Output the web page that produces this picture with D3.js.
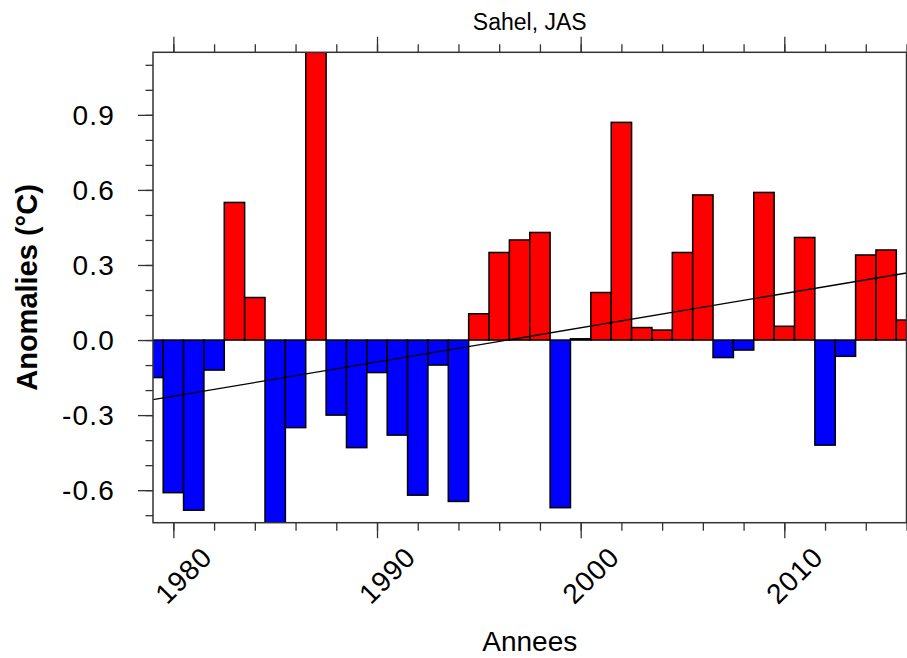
<!DOCTYPE html>
<html>
<head>
<meta charset="utf-8">
<script src="https://cdn.jsdelivr.net/npm/d3@7"></script>
<style>
  html, body { margin: 0; padding: 0; background: #fff; }
  svg { display: block; }
  text { font-family: "Liberation Sans", Arial, Helvetica, sans-serif; fill: #000; }
</style>
</head>
<body>
<svg id="chart" width="907" height="658"></svg>
<script>
// Sahel JAS temperature anomalies (°C), one value per year
const years = d3.range(1979, 2017);
const anomalies = [
  -0.15, -0.61, -0.68, -0.12, 0.55, 0.17, -0.73, -0.35, 1.15, -0.30,
  -0.43, -0.13, -0.38, -0.62, -0.10, -0.645, 0.105, 0.35, 0.40, 0.43,
  -0.67, 0.005, 0.19, 0.87, 0.05, 0.04, 0.35, 0.58, -0.07, -0.04,
  0.59, 0.055, 0.41, -0.42, -0.065, 0.34, 0.36, 0.08
];
const xMajorTicks = [1980, 1990, 2000, 2010];
const xMinorTicks = d3.range(1980, 2017, 2);
const yMajorTicks = [-0.6, -0.3, 0.0, 0.3, 0.6, 0.9];
const yMinorTicks = d3.range(-7, 12).map(d => d / 10);

const titleText = "Sahel, JAS";
const xTitle = "Annees";
const yTitle = "Anomalies (°C)";

const data = years.map((y, i) => ({ year: y, value: anomalies[i] }));

const plot = { left: 153, top: 52.3, right: 906.5, bottom: 522.7 };

const x = d3.scaleLinear().domain([years[0], years[years.length - 1]]).range([plot.left, plot.right]);
const y = d3.scaleLinear().domain(d3.extent(anomalies)).range([plot.bottom, plot.top]);

const svg = d3.select("#chart");

svg.append("defs").append("clipPath").attr("id", "plot-clip")
  .append("rect")
  .attr("x", plot.left).attr("y", plot.top)
  .attr("width", plot.right - plot.left).attr("height", plot.bottom - plot.top);

const inner = svg.append("g").attr("clip-path", "url(#plot-clip)");

// bars centred on each year, one year wide
inner.selectAll("rect.bar").data(data).join("rect")
  .attr("class", "bar")
  .attr("x", d => x(d.year - 0.5))
  .attr("width", d => x(d.year + 0.5) - x(d.year - 0.5))
  .attr("y", d => y(Math.max(0, d.value)))
  .attr("height", d => Math.abs(y(d.value) - y(0)))
  .attr("fill", d => d.value >= 0 ? "#ff0000" : "#0000ff")
  .attr("stroke", "#000")
  .attr("stroke-width", 1.5);

// least-squares linear trend
const n = years.length;
const mx = d3.mean(years), my = d3.mean(anomalies);
const sxy = d3.sum(years, (t, i) => (t - mx) * (anomalies[i] - my));
const sxx = d3.sum(years, t => (t - mx) * (t - mx));
const slope = sxy / sxx;
const intercept = my - slope * mx;
const trend = [years[0], years[n - 1]].map(t => ({ year: t, value: intercept + slope * t }));

inner.append("path")
  .datum(trend)
  .attr("d", d3.line().x(d => x(d.year)).y(d => y(d.value)))
  .attr("fill", "none")
  .attr("stroke", "#000")
  .attr("stroke-width", 1.3);

// axes: ticks point outward on all four sides
const tickColor = "#333";
const axisBottom = svg.append("g").attr("transform", `translate(0,${plot.bottom})`)
  .call(d3.axisBottom(x).tickValues(xMinorTicks).tickSize(8).tickFormat(""));
const axisBottomMajor = svg.append("g").attr("transform", `translate(0,${plot.bottom})`)
  .call(d3.axisBottom(x).tickValues(xMajorTicks).tickSize(15.5).tickFormat(""));
const axisTop = svg.append("g").attr("transform", `translate(0,${plot.top})`)
  .call(d3.axisTop(x).tickValues(xMinorTicks).tickSize(8).tickFormat(""));
const axisTopMajor = svg.append("g").attr("transform", `translate(0,${plot.top})`)
  .call(d3.axisTop(x).tickValues(xMajorTicks).tickSize(15.5).tickFormat(""));
const axisLeft = svg.append("g").attr("transform", `translate(${plot.left},0)`)
  .call(d3.axisLeft(y).tickValues(yMinorTicks).tickSize(7.5).tickFormat(""));
const axisLeftMajor = svg.append("g").attr("transform", `translate(${plot.left},0)`)
  .call(d3.axisLeft(y).tickValues(yMajorTicks).tickSize(15).tickFormat(""));
const axisRight = svg.append("g").attr("transform", `translate(${plot.right},0)`)
  .call(d3.axisRight(y).tickValues(yMinorTicks).tickSize(7.5).tickFormat(""));
const axisRightMajor = svg.append("g").attr("transform", `translate(${plot.right},0)`)
  .call(d3.axisRight(y).tickValues(yMajorTicks).tickSize(15).tickFormat(""));

[axisBottom, axisBottomMajor, axisTop, axisTopMajor, axisLeft, axisLeftMajor, axisRight, axisRightMajor]
  .forEach(g => {
    g.select(".domain").remove();
    g.selectAll(".tick line").attr("stroke", tickColor).attr("stroke-width", 1.3);
  });

// plot frame
svg.append("rect")
  .attr("x", plot.left).attr("y", plot.top)
  .attr("width", plot.right - plot.left).attr("height", plot.bottom - plot.top)
  .attr("fill", "none").attr("stroke", "#333").attr("stroke-width", 1.5);

// y tick labels (plain hyphen for negatives)
const fmtY = v => d3.format(".1f")(v).replace("\u2212", "-");
svg.append("g").selectAll("text").data(yMajorTicks).join("text")
  .attr("x", 115)
  .attr("y", d => y(d))
  .attr("dy", "0.36em")
  .attr("text-anchor", "end")
  .style("font-size", "28px")
  .style("letter-spacing", "1.2px")
  .text(fmtY);

// x tick labels, rotated 45°
svg.append("g").selectAll("text").data(xMajorTicks).join("text")
  .attr("transform", d => `translate(${x(d) + 10},575) rotate(-45)`)
  .attr("text-anchor", "middle")
  .attr("dy", "0.36em")
  .style("font-size", "28px")
  .style("letter-spacing", "1px")
  .text(d => d);

// titles
svg.append("text")
  .attr("x", (plot.left + plot.right) / 2).attr("y", 30)
  .attr("text-anchor", "middle")
  .style("font-size", "23px")
  .text(titleText);

svg.append("text")
  .attr("x", (plot.left + plot.right) / 2).attr("y", 651)
  .attr("text-anchor", "middle")
  .style("font-size", "28px")
  .text(xTitle);

svg.append("text")
  .attr("transform", `translate(36.5,${(plot.top + plot.bottom) / 2}) rotate(-90)`)
  .attr("text-anchor", "middle")
  .style("font-size", "29px")
  .style("font-weight", "bold")
  .text(yTitle);
</script>
</body>
</html>
